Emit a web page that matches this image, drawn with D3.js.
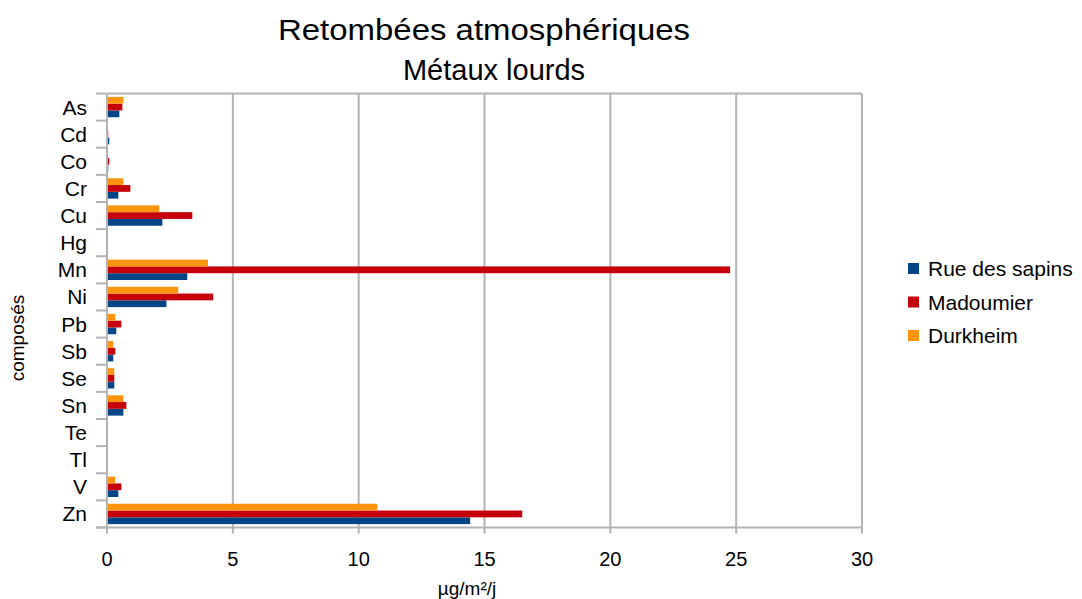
<!DOCTYPE html>
<html>
<head>
<meta charset="utf-8">
<script src="https://cdn.jsdelivr.net/npm/d3@7"></script>
<style>
  body { margin: 0; background: #fff; }
  svg { display: block; font-family: "Liberation Sans", Arial, sans-serif; }
</style>
</head>
<body>
<svg id="chart" width="1082" height="599"></svg>
<script>
// Metals measured at each site (µg/m²/j)
const categories = ["As", "Cd", "Co", "Cr", "Cu", "Hg", "Mn", "Ni", "Pb", "Sb", "Se", "Sn", "Te", "Tl", "V", "Zn"];
const seriesNames = ["Rue des sapins", "Madoumier", "Durkheim"];
const rueDesSapins = [0.49, 0.09, 0.05, 0.45, 2.2, 0, 3.19, 2.36, 0.37, 0.25, 0.29, 0.65, 0, 0, 0.45, 14.43];
const madoumier    = [0.61, 0.05, 0.09, 0.93, 3.39, 0, 24.76, 4.22, 0.57, 0.33, 0.29, 0.77, 0, 0, 0.57, 16.5];
const durkheim     = [0.65, 0.04, 0.04, 0.65, 2.08, 0, 4.01, 2.83, 0.33, 0.25, 0.29, 0.65, 0, 0, 0.33, 10.74];
const xTicks = [0, 5, 10, 15, 20, 25, 30];
const colors = ["#004586", "#c5000b", "#ff950e"];

const seriesValues = [rueDesSapins, madoumier, durkheim];

const svg = d3.select("#chart");
const plotLeft = 107, plotRight = 862, plotTop = 93.5, plotBottom = 527.5;

const x = d3.scaleLinear().domain([0, 30]).range([plotLeft, plotRight]);
const y = d3.scaleBand().domain(categories).range([plotTop, plotBottom]).paddingInner(0.25).paddingOuter(0.125);
// inside a category, the last series sits at the top
const inner = d3.scaleBand().domain([2, 1, 0]).range([0, y.bandwidth()]);

// titles
svg.append("text").attr("x", 484).attr("y", 40).attr("text-anchor", "middle")
  .attr("font-size", 29).attr("textLength", 412).attr("lengthAdjust", "spacingAndGlyphs")
  .attr("fill", "#000").text("Retombées atmosphériques");
svg.append("text").attr("x", 494).attr("y", 80).attr("text-anchor", "middle")
  .attr("font-size", 29).attr("fill", "#000").text("Métaux lourds");

// vertical grid lines
svg.append("g").selectAll("line").data(xTicks.slice(1)).join("line")
  .attr("x1", d => x(d)).attr("x2", d => x(d))
  .attr("y1", plotTop).attr("y2", plotBottom)
  .attr("stroke", "#b3b3b3").attr("stroke-width", 2);

// top frame line
svg.append("line").attr("x1", plotLeft).attr("x2", plotRight).attr("y1", plotTop).attr("y2", plotTop)
  .attr("stroke", "#b3b3b3").attr("stroke-width", 2);

// bars
const rows = categories.map((c, i) => ({ c, vals: seriesValues.map(s => s[i]) }));
const g = svg.append("g");
rows.forEach(r => {
  g.selectAll(null).data(r.vals.map((v, k) => ({ v, k }))).join("rect")
    .attr("x", x(0))
    .attr("y", d => y(r.c) + inner(d.k))
    .attr("width", d => x(d.v) - x(0))
    .attr("height", inner.bandwidth())
    .attr("fill", d => colors[d.k]);
});

// y axis
const yAxisG = svg.append("g");
yAxisG.append("line").attr("x1", plotLeft).attr("x2", plotLeft).attr("y1", plotTop).attr("y2", plotBottom + 6)
  .attr("stroke", "#b3b3b3").attr("stroke-width", 2);
const step = (plotBottom - plotTop) / categories.length;
yAxisG.selectAll("line.tk").data(d3.range(categories.length + 1)).join("line")
  .attr("class", "tk")
  .attr("x1", plotLeft - 11).attr("x2", plotLeft)
  .attr("y1", d => plotTop + d * step).attr("y2", d => plotTop + d * step)
  .attr("stroke", "#b3b3b3").attr("stroke-width", 2);
yAxisG.selectAll("text").data(categories).join("text")
  .attr("x", 87).attr("y", d => y(d) + y.bandwidth() / 2 + 7.5)
  .attr("text-anchor", "end").attr("font-size", 21).attr("fill", "#000")
  .text(d => d);

// x axis
const xAxisG = svg.append("g");
xAxisG.append("line").attr("x1", plotLeft - 11).attr("x2", plotRight).attr("y1", plotBottom).attr("y2", plotBottom)
  .attr("stroke", "#b3b3b3").attr("stroke-width", 2);
xAxisG.selectAll("line.tk").data(xTicks).join("line")
  .attr("class", "tk")
  .attr("x1", d => x(d)).attr("x2", d => x(d))
  .attr("y1", plotBottom).attr("y2", plotBottom + 6)
  .attr("stroke", "#b3b3b3").attr("stroke-width", 2);
xAxisG.selectAll("text").data(xTicks).join("text")
  .attr("x", d => x(d)).attr("y", 566)
  .attr("text-anchor", "middle").attr("font-size", 20).attr("fill", "#000")
  .text(d => d);

// axis titles
svg.append("text").attr("x", 467).attr("y", 595).attr("text-anchor", "middle")
  .attr("font-size", 19).attr("fill", "#000").text("µg/m²/j");
svg.append("text").attr("transform", "translate(24,338) rotate(-90)")
  .attr("text-anchor", "middle").attr("font-size", 19).attr("fill", "#000").text("composés");

// legend
const legend = svg.append("g").selectAll("g").data(seriesNames).join("g")
  .attr("transform", (d, i) => `translate(908,${263 + i * 33.5})`);
legend.append("rect").attr("width", 11).attr("height", 11).attr("fill", (d, i) => colors[i]);
legend.append("text").attr("x", 20).attr("y", 13).attr("font-size", 21).attr("fill", "#000").text(d => d);
</script>
</body>
</html>
